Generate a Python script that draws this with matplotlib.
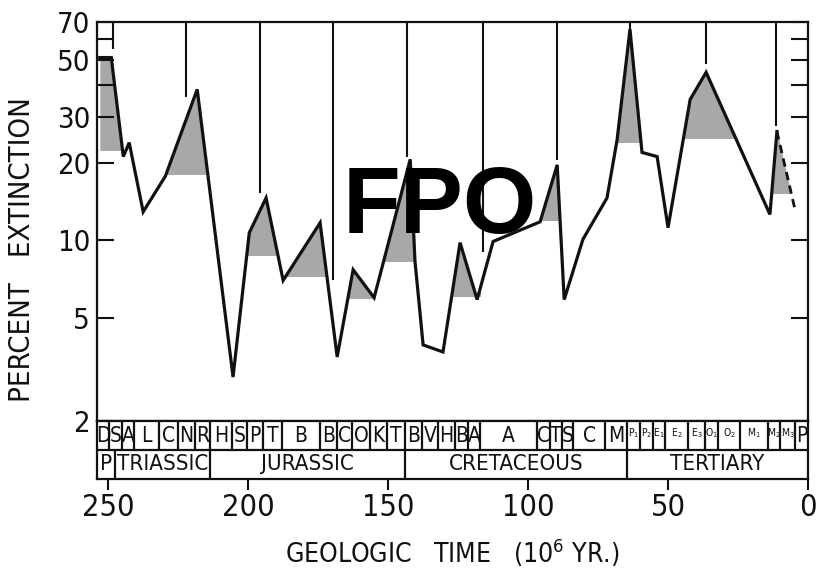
import numpy as np
import matplotlib
matplotlib.use("Agg")
import matplotlib.pyplot as plt
from matplotlib.patches import Rectangle
from matplotlib.ticker import NullLocator

plt.rcParams['font.family'] = ['DejaVu Sans']
plt.rcParams['font.stretch'] = 'condensed'
plt.rcParams['mathtext.default'] = 'regular'

# extinction curve: age (Myr) / percent extinction
age = [253.0, 248.9, 244.6, 242.5, 237.5, 229.6, 218.2, 205.4, 199.6, 193.6,
       187.5, 174.3, 168.2, 162.5, 155.0, 142.1, 140.4, 137.5, 130.4, 124.3,
       118.2, 112.5, 95.7, 89.6, 87.1, 80.4, 71.8, 68.2, 63.6, 59.3,
       53.9, 50.0, 42.1, 36.4, 13.6, 11.1]
pct = [51, 51, 21.1, 23.9, 12.9, 17.7, 38.4, 2.96, 10.7, 14.6,
       7.0, 11.7, 3.54, 7.7, 6.0, 20.6, 8.3, 3.94, 3.70, 9.8,
       5.9, 9.9, 11.8, 19.6, 5.9, 10.1, 14.6, 24.5, 65.6, 21.9,
       21.1, 11.2, 35.1, 44.7, 12.6, 26.4]
tail_age = [11.1, 4.6]          # dashed end
tail_pct = [26.4, 13.1]

# 26-Myr periodicity markers (top down to just above the peaks)
mark_age = [248.2, 222.1, 195.7, 169.6, 143.2, 116.1, 89.6, 63.6, 36.4, 11.4]
mark_low = [55, 36, 15.3, 7.0, 21, 9.0, 20.5, 63, 48, 27.6]

# shaded peaks: age window and lower bound of the shading
shade_old = [254, 230, 201, 188, 166, 156, 131, 100, 70, 50, 13.5]
shade_young = [244, 205, 188, 167, 155, 139, 117, 87, 59, 13, 4]
shade_low = [22.4, 18, 8.8, 7.3, 6.0, 8.3, 6.1, 12, 24, 24.8, 15.3]

# time scale
stage_bounds = [249.6, 245.0, 240.7, 232.0, 225.0, 219.0, 213.6, 205.7, 200.4,
                194.6, 187.9, 174.3, 168.2, 162.9, 156.4, 150.4, 143.9, 137.9,
                132.1, 126.1, 121.4, 117.1, 96.8, 92.1, 87.9, 83.9, 72.5, 64.6,
                60.0, 55.4, 51.1, 42.9, 36.8, 32.1, 24.3, 14.3, 10.0, 4.6]
stage_labels = ['D', 'S', 'A', 'L', 'C', 'N', 'R',
                'H', 'S', 'P', 'T', 'B', 'B', 'C', 'O', 'K', 'T',
                'B', 'V', 'H', 'B', 'A', 'A', 'C', 'T', 'S', 'C', 'M',
                '$P_1$', '$P_2$', '$E_1$', '$E_2$', '$E_3$', '$O_1$', '$O_2$',
                '$M_1$', '$M_2$', '$M_3$', 'P']
period_bounds = [247.5, 213.6, 143.9, 64.6]
period_labels = ['P', 'TRIASSIC', 'JURASSIC', 'CRETACEOUS', 'TERTIARY']

ytick_vals = [2, 5, 10, 20, 30, 40, 50, 60, 70]
ytick_text = ['2', '5', '10', '20', '30', '', '50', '', '70']
xtick_vals = [250, 200, 150, 100, 50, 0]

T_MAX, T_MIN = 254, 0
INK = '#111111'
LW = 1.6

fig = plt.figure(figsize=(8.16, 5.76), dpi=100)
ax = fig.add_axes([97 / 816, 1 - 421 / 576, 711 / 816, 399 / 576])
tb = fig.add_axes([97 / 816, 1 - 479 / 576, 711 / 816, 58 / 576])

ax.set_yscale('log')
ax.set_xlim(T_MAX, T_MIN)
ax.set_ylim(2, 70)

all_age = age + tail_age[1:]
all_pct = pct + tail_pct[1:]
for old, young, low in zip(shade_old, shade_young, shade_low):
    poly = ax.fill_between(all_age, all_pct, 1, color='#a8a8a8', lw=0, zorder=1)
    clip = Rectangle((young, low), old - young, 1000, transform=ax.transData)
    poly.set_clip_path(clip)

ax.plot(age, pct, color=INK, lw=2.3, solid_joinstyle='miter', zorder=3)
ax.plot(tail_age, tail_pct, color=INK, lw=2.0, ls=(0, (3, 2)), zorder=3)
ax.vlines(mark_age, mark_low, 70, color=INK, lw=1.5, zorder=2)

ax.set_yticks(ytick_vals, ytick_text)
ax.yaxis.set_minor_locator(NullLocator())
ax.tick_params(axis='y', which='major', direction='in', length=12, width=1.5,
               right=True, labelsize=21, pad=5, colors=INK)
ax.tick_params(axis='x', bottom=False, labelbottom=False)
for s in ax.spines.values():
    s.set_linewidth(LW)
    s.set_color(INK)

# geologic time scale strip
tb.set_xlim(T_MAX, T_MIN)
tb.set_ylim(0, 2)
tb.axhline(1, color=INK, lw=LW)
tb.vlines(stage_bounds, 1, 2, color=INK, lw=LW)
tb.vlines(period_bounds, 0, 1, color=INK, lw=LW)
s_edges = [T_MAX] + stage_bounds + [T_MIN]
for i, lab in enumerate(stage_labels):
    mid = (s_edges[i] + s_edges[i + 1]) / 2
    small = lab.startswith('$')
    tb.text(mid, 1.5 if not small else 1.58, lab, ha='center', va='center',
            fontsize=7.5 if small else 15, color=INK)
p_edges = [T_MAX] + period_bounds + [T_MIN]
for i, lab in enumerate(period_labels):
    mid = (p_edges[i] + p_edges[i + 1]) / 2
    tb.text(mid, 0.5, lab, ha='center', va='center', fontsize=16, color=INK)
tb.set_yticks([])
tb.set_xticks(xtick_vals)
tb.tick_params(axis='x', direction='out', length=8, width=1.5, labelsize=22,
               pad=2, colors=INK)
for s in tb.spines.values():
    s.set_linewidth(LW)
    s.set_color(INK)

fig.text(452 / 816, 1 - 553 / 576, 'GEOLOGIC   TIME   (10$^6$ YR.)',
         ha='center', va='center', fontsize=19, color=INK)
fig.text(22 / 816, 1 - 250 / 576, 'PERCENT   EXTINCTION', rotation=90,
         ha='center', va='center', fontsize=21, color=INK)

fig.text(440 / 816, 1 - 233 / 576, 'FPO', ha='center', va='baseline',
         fontsize=68, fontweight='bold', stretch='normal',
         family=['Liberation Sans', 'DejaVu Sans'], color='black', zorder=10)

fig.savefig('out.png', dpi=100)
